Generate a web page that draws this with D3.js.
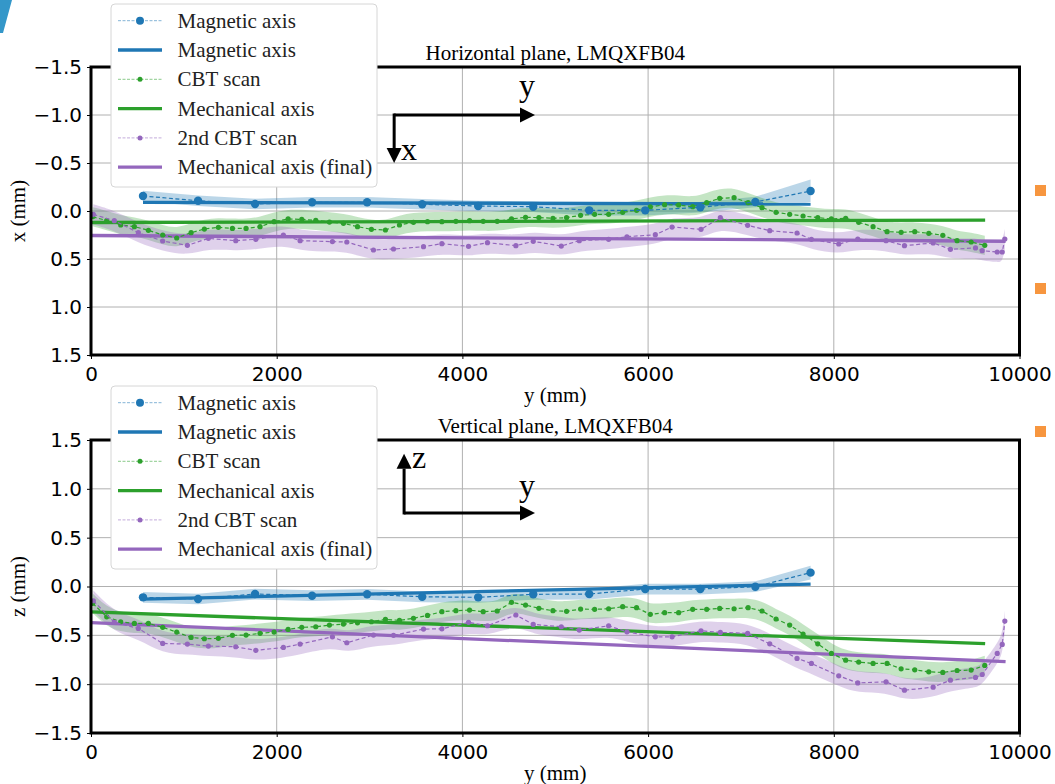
<!DOCTYPE html>
<html>
<head>
<meta charset="utf-8">
<script src="https://cdn.jsdelivr.net/npm/d3@7"></script>
<style>
  body { margin: 0; background: #fff; }
  svg { display: block; }
</style>
</head>
<body>
<svg id="chart" width="1055" height="784"></svg>
<script>
// ---- data (y along magnet in mm, offsets in mm) ----
const xTicks = [0, 2000, 4000, 6000, 8000, 10000];
const yTicks = [-1.5, -1.0, -0.5, 0.0, 0.5, 1.0, 1.5];

// magnetic axis measurements
const magY = [560, 1153, 1767, 2381, 2974, 3567, 4170, 4763, 5366, 5969, 6562, 7155, 7750];
const magH = [-0.156, -0.107, -0.073, -0.091, -0.091, -0.070, -0.052, -0.045, -0.007, -0.007, -0.039, -0.094, -0.208];
const magV = [-0.111, -0.128, -0.077, -0.094, -0.080, -0.105, -0.111, -0.080, -0.077, -0.026, -0.026, -0.002, 0.142];
const magErrH = [0.055, 0.055, 0.055, 0.055, 0.055, 0.055, 0.055, 0.055, 0.055, 0.055, 0.055, 0.055, 0.12];
const magErrV = [0.055, 0.055, 0.055, 0.055, 0.055, 0.055, 0.055, 0.055, 0.055, 0.055, 0.055, 0.055, 0.07];
// magnetic axis fit (end points)
const magFitY = [560, 7750];
const magFitH = [-0.09, -0.073];
const magFitV = [-0.13, 0.025];

// first CBT scan
const cbtY = [18, 169, 320, 467, 618, 772, 923, 1078, 1221, 1372,
  1523, 1670, 1821, 1972, 2123, 2270, 2421, 2568, 2719, 2870,
  3020, 3171, 3322, 3473, 3624, 3779, 3930, 4077, 4224, 4375,
  4529, 4680, 4824, 4975, 5122, 5273, 5424, 5575, 5726, 5876,
  6024, 6178, 6329, 6480, 6631, 6771, 6926, 7077, 7227, 7378,
  7525, 7669, 7827, 7974, 8128, 8268, 8423, 8574, 8725, 8872,
  9023, 9174, 9328, 9479, 9626];
const cbtH = [0.06, 0.10, 0.146, 0.163, 0.201, 0.25, 0.281, 0.226, 0.188, 0.17,
  0.181, 0.181, 0.163, 0.111, 0.083, 0.087, 0.097, 0.115, 0.128, 0.163,
  0.191, 0.198, 0.146, 0.118, 0.111, 0.111, 0.108, 0.101, 0.108, 0.108,
  0.083, 0.066, 0.069, 0.076, 0.069, 0.045, 0.035, 0.035, 0.014, -0.007,
  -0.042, -0.066, -0.063, -0.045, -0.087, -0.132, -0.139, -0.087, -0.035, 0.014,
  0.035, 0.052, 0.069, 0.083, 0.076, 0.118, 0.163, 0.215, 0.222, 0.215,
  0.233, 0.253, 0.309, 0.323, 0.358];
const cbtV = [-0.172, -0.31, -0.361, -0.378, -0.378, -0.418, -0.467, -0.521, -0.535, -0.531,
  -0.5, -0.497, -0.479, -0.467, -0.439, -0.418, -0.412, -0.395, -0.385, -0.372,
  -0.361, -0.336, -0.347, -0.326, -0.296, -0.258, -0.248, -0.241, -0.258, -0.251,
  -0.162, -0.19, -0.223, -0.248, -0.254, -0.231, -0.234, -0.228, -0.207, -0.217,
  -0.285, -0.268, -0.268, -0.234, -0.234, -0.224, -0.228, -0.217, -0.251, -0.333,
  -0.395, -0.487, -0.587, -0.685, -0.754, -0.774, -0.788, -0.788, -0.843, -0.853,
  -0.874, -0.88, -0.86, -0.856, -0.808];
const cbtBand = 0.1;
// mechanical axis fit
const mechY = [0, 9630];
const mechH = [0.12, 0.095];
const mechV = [-0.26, -0.585];

// second CBT scan
const cbt2Y = [25, 251, 510, 772, 1038, 1264, 1559, 1775, 2072, 2252,
  2600, 2755, 3042, 3258, 3581, 3779, 4066, 4270, 4576, 4763,
  5065, 5259, 5575, 5772, 6078, 6258, 6570, 6778, 7072, 7310,
  7604, 7759, 8053, 8258, 8563, 8761, 9070, 9256, 9526, 9598,
  9760, 9814, 9842];
const cbt2H = [0.035, 0.101, 0.226, 0.3125, 0.358, 0.285, 0.309, 0.295, 0.25, 0.309,
  0.319, 0.323, 0.406, 0.396, 0.372, 0.34, 0.368, 0.33, 0.361, 0.316,
  0.365, 0.309, 0.295, 0.268, 0.247, 0.167, 0.191, 0.07, 0.149, 0.205,
  0.229, 0.295, 0.344, 0.292, 0.309, 0.361, 0.333, 0.399, 0.385, 0.413,
  0.427, 0.427, 0.292];
const cbt2V = [-0.146, -0.367, -0.429, -0.583, -0.59, -0.61, -0.617, -0.654, -0.624, -0.59,
  -0.515, -0.576, -0.497, -0.5, -0.436, -0.433, -0.367, -0.402, -0.292, -0.388,
  -0.412, -0.446, -0.402, -0.464, -0.515, -0.515, -0.453, -0.47, -0.48, -0.587,
  -0.736, -0.788, -0.915, -0.987, -0.976, -1.062, -1.031, -0.959, -0.931, -0.901,
  -0.685, -0.593, -0.354];
const cbt2Band = 0.105;
// final mechanical axis fit
const finalY = [0, 9850];
const finalH = [0.255, 0.315];
const finalV = [-0.37, -0.77];

const legendLabels = ['Magnetic axis', 'Magnetic axis', 'CBT scan', 'Mechanical axis', '2nd CBT scan', 'Mechanical axis (final)'];

// ---- drawing ----
const svg = d3.select('#chart');
const C = { mag: '#1f77b4', cbt: '#2ca02c', cbt2: '#9467bd' };
const serif = '"Liberation Serif", "Times New Roman", serif';
const sans = '"DejaVu Sans", sans-serif';

const x = d3.scaleLinear().domain([0, 10000]).range([91, 1019.5]);

const panels = [
  {
    title: 'Horizontal plane, LMQXFB04', ylabel: 'x (mm)',
    y: d3.scaleLinear().domain([-1.5, 1.5]).range([67, 355]),
    mag: magH, magErr: magErrH, magFit: magFitH, cbt: cbtH, mech: mechH, cbt2: cbt2H, fin: finalH,
    legendTop: 4,
    arrows: { y0: 3265, v0: -1.0, yTip: 4782, vTip: -0.5 },
    marks: [{ t: 'y', y: 4610, v: -1.2 }, { t: 'x', y: 3340, v: -0.53 }]
  },
  {
    title: 'Vertical plane, LMQXFB04', ylabel: 'z (mm)',
    y: d3.scaleLinear().domain([-1.5, 1.5]).range([733, 440]),
    mag: magV, magErr: magErrV, magFit: magFitV, cbt: cbtV, mech: mechV, cbt2: cbt2V, fin: finalV,
    legendTop: 386,
    arrows: { y0: 3372, v0: 0.753, yTip: 4782, vTip: 1.36 },
    marks: [{ t: 'z', y: 3457, v: 1.213 }, { t: 'y', y: 4610, v: 0.927 }]
  }
];

// corner decorations visible in the screenshot
svg.append('polygon').attr('points', '0,0 12,0 3,33 0,33').attr('fill', '#3497c9');
[185, 283, 426].forEach(t => svg.append('rect').attr('x', 1035).attr('y', t)
  .attr('width', 11).attr('height', 11).attr('fill', '#f7963f'));

panels.forEach(drawPanel);

function drawPanel(p) {
  const y = p.y;
  const [left, right] = x.range();
  const top = Math.min(...y.range()), bottom = Math.max(...y.range());
  const g = svg.append('g');

  // grid
  g.append('g').selectAll('line').data(xTicks.slice(1, -1)).join('line')
    .attr('x1', d => x(d)).attr('x2', d => x(d)).attr('y1', top).attr('y2', bottom)
    .attr('stroke', '#b0b0b0').attr('stroke-width', 1);
  g.append('g').selectAll('line').data(yTicks.slice(1, -1)).join('line')
    .attr('y1', d => y(d)).attr('y2', d => y(d)).attr('x1', left).attr('x2', right)
    .attr('stroke', '#b0b0b0').attr('stroke-width', 1);

  const mag = magY.map((pos, i) => ({ pos, v: p.mag[i], e: p.magErr[i] }));
  const cbt = cbtY.map((pos, i) => ({ pos, v: p.cbt[i], e: cbtBand }));
  const cbt2 = cbt2Y.map((pos, i) => ({ pos, v: p.cbt2[i], e: cbt2Band }));

  const band = d3.area().x(d => x(d.pos)).y0(d => y(d.v - d.e)).y1(d => y(d.v + d.e));
  const line = d3.line().x(d => x(d.pos)).y(d => y(d.v));

  // shaded uncertainty bands
  g.append('path').datum(mag).attr('d', band).attr('fill', C.mag).attr('fill-opacity', 0.3);
  g.append('path').datum(cbt).attr('d', band.curve(d3.curveBasis)).attr('fill', C.cbt).attr('fill-opacity', 0.28);
  g.append('path').datum(cbt2).attr('d', band.curve(d3.curveBasis)).attr('fill', C.cbt2).attr('fill-opacity', 0.3);

  // fitted axes
  const fits = [
    { c: C.mag, pts: magFitY.map((pos, i) => ({ pos, v: p.magFit[i] })) },
    { c: C.cbt, pts: mechY.map((pos, i) => ({ pos, v: p.mech[i] })) },
    { c: C.cbt2, pts: finalY.map((pos, i) => ({ pos, v: p.fin[i] })) }
  ];
  fits.forEach(f => g.append('path').datum(f.pts).attr('d', line)
    .attr('fill', 'none').attr('stroke', f.c).attr('stroke-width', 3.3));

  // measured points with dashed connectors
  [[cbt, C.cbt, 2.6], [cbt2, C.cbt2, 2.6], [mag, C.mag, 4.2]].forEach(([pts, c, r]) => {
    g.append('path').datum(pts).attr('d', line).attr('fill', 'none')
      .attr('stroke', c).attr('stroke-width', 1.2).attr('stroke-dasharray', '4,2.5');
    g.append('g').selectAll('circle').data(pts).join('circle')
      .attr('cx', d => x(d.pos)).attr('cy', d => y(d.v)).attr('r', r).attr('fill', c);
  });

  // frame
  g.append('rect').attr('x', left).attr('y', top).attr('width', right - left).attr('height', bottom - top)
    .attr('fill', 'none').attr('stroke', '#000').attr('stroke-width', 3);

  // axes
  const gx = g.append('g').attr('transform', `translate(0,${bottom})`)
    .call(d3.axisBottom(x).tickValues(xTicks).tickFormat(d3.format('d')).tickSize(4).tickPadding(8));
  const gy = g.append('g').attr('transform', `translate(${left},0)`)
    .call(d3.axisLeft(y).tickValues(yTicks).tickFormat(d3.format('.1f')).tickSize(4).tickPadding(5));
  [gx, gy].forEach(a => {
    a.select('.domain').remove();
    a.selectAll('line').attr('stroke', '#000').attr('stroke-width', 1);
    a.selectAll('text').attr('font-family', sans).attr('font-size', 20).attr('fill', '#000');
  });

  // labels
  g.append('text').attr('x', (left + right) / 2).attr('y', top - 7).attr('text-anchor', 'middle')
    .attr('font-family', serif).attr('font-size', 21).text(p.title);
  g.append('text').attr('x', (left + right) / 2).attr('y', bottom + 47).attr('text-anchor', 'middle')
    .attr('font-family', serif).attr('font-size', 21).text('y (mm)');
  g.append('text').attr('transform', `translate(25,${(top + bottom) / 2}) rotate(-90)`)
    .attr('text-anchor', 'middle').attr('font-family', serif).attr('font-size', 21).text(p.ylabel);

  // coordinate arrows
  const a = p.arrows;
  const cx = x(a.y0), cy = y(a.v0);
  const hx = x(a.yTip), vy = y(a.vTip);
  const head = 15, half = 7.5;
  const dir = Math.sign(vy - cy);
  g.append('line').attr('x1', cx).attr('y1', cy).attr('x2', hx - head).attr('y2', cy)
    .attr('stroke', '#000').attr('stroke-width', 3);
  g.append('line').attr('x1', cx).attr('y1', cy - dir * 1.5).attr('x2', cx).attr('y2', vy - dir * head)
    .attr('stroke', '#000').attr('stroke-width', 3);
  g.append('polygon').attr('points', `${hx},${cy} ${hx - head},${cy - half} ${hx - head},${cy + half}`);
  g.append('polygon').attr('points', `${cx},${vy} ${cx - half},${vy - dir * head} ${cx + half},${vy - dir * head}`);
  p.marks.forEach(m => g.append('text').attr('x', x(m.y)).attr('y', y(m.v))
    .attr('font-family', serif).attr('font-size', 32).text(m.t));

  // legend
  const lg = svg.append('g').attr('transform', `translate(111,${p.legendTop})`);
  lg.append('rect').attr('width', 266).attr('height', 183).attr('rx', 4)
    .attr('fill', '#fff').attr('stroke', '#d6d6d6').attr('stroke-width', 1);
  const items = [
    { c: C.mag, type: 'pts', r: 4 }, { c: C.mag, type: 'fit' },
    { c: C.cbt, type: 'pts', r: 2.5 }, { c: C.cbt, type: 'fit' },
    { c: C.cbt2, type: 'pts', r: 2.5 }, { c: C.cbt2, type: 'fit' }
  ];
  items.forEach((it, i) => {
    const ry = 16.7 + i * 29.3;
    const row = lg.append('g').attr('transform', `translate(0,${ry})`);
    if (it.type === 'pts') {
      row.append('line').attr('x1', 7).attr('x2', 51).attr('stroke', it.c).attr('stroke-opacity', 0.55)
        .attr('stroke-width', 1).attr('stroke-dasharray', '3,1.5');
      row.append('circle').attr('cx', 29).attr('r', it.r).attr('fill', it.c);
    } else {
      row.append('line').attr('x1', 7).attr('x2', 51).attr('stroke', it.c).attr('stroke-width', 3.3);
    }
    row.append('text').attr('x', 66.5).attr('y', 7).attr('font-family', serif).attr('font-size', 21)
      .attr('fill', '#222').text(legendLabels[i]);
  });
}
</script>
</body>
</html>
